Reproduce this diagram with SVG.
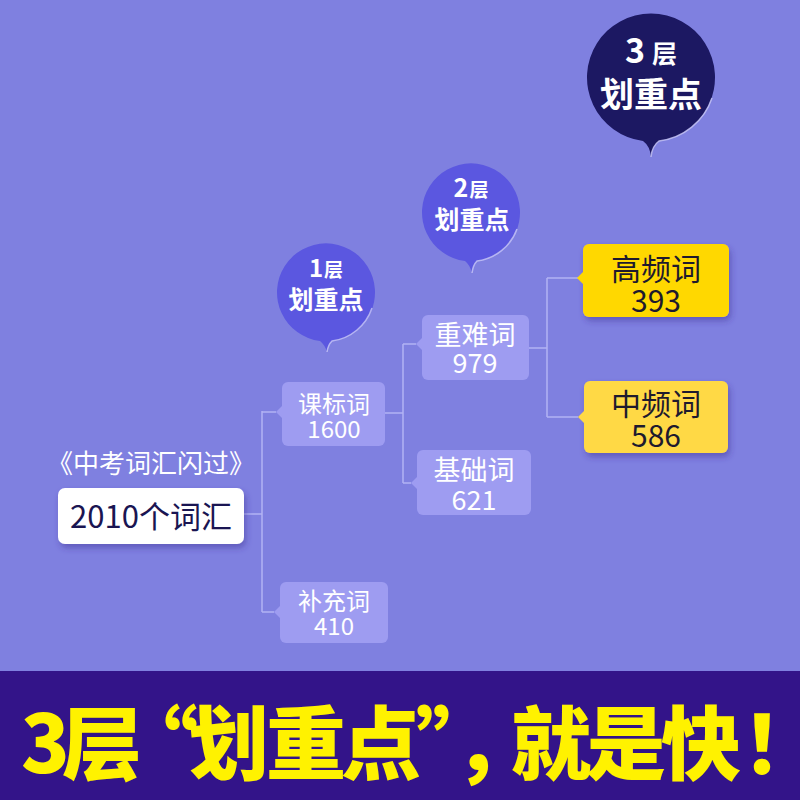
<svg xmlns="http://www.w3.org/2000/svg" width="800" height="800" viewBox="0 0 800 800">
<defs>
<style>
.t{font-family:"Noto Sans CJK SC","Noto Sans",sans-serif}
.w{fill:#ffffff}
.lv{fill:#9e9cf1}
.yl{fill:#ffd800}
.yl2{fill:#ffd944}
.ln{stroke:#b3b2f3;stroke-width:1.5;fill:none}
.hl{stroke:#c9c8f6;stroke-width:1.5;fill:none;opacity:0.8}
.nt{font-size:24px;fill:#ffffff;text-anchor:middle}
.mt{font-size:27px;fill:#ffffff;text-anchor:middle}
.yt{font-size:30px;fill:#1e1a2e;text-anchor:middle}
.bt{font-size:80px;font-weight:900;fill:#fff200}
</style>
<filter id="sh" x="-20%" y="-20%" width="140%" height="160%">
<feDropShadow dx="2" dy="4" stdDeviation="3" flood-color="#3a2f90" flood-opacity="0.45"/>
</filter>
</defs>
<rect x="0" y="0" width="800" height="800" fill="#7f80e0"/>

<g id="connectors">
<path class="ln" d="M244 514 H262 M262 411 V612 M262 412 H276 M262 612 H274"/>
<path class="ln" d="M385 413 H403 M403 344 V483 M403 344 H416 M403 483 H411"/>
<path class="ln" d="M529 348 H547 M547 278 V417 M547 278 H578 M547 417 H578"/>
</g>

<g id="bubble3">
<path d="M643 141 A64 64 0 1 1 659 141 Q652 146 651 157 Q650 146 643 141 Z" fill="#1c1862"/>
<path class="hl" d="M712 98 A64 64 0 0 1 659 141 Q652 146 651 157"/>
<text class="t" x="651" y="63" text-anchor="middle" font-weight="700" fill="#ffffff"><tspan font-size="34">3</tspan><tspan font-size="25" dx="7">层</tspan></text>
<text class="t" x="651" y="107" text-anchor="middle" font-weight="700" font-size="34" fill="#ffffff">划重点</text>
</g>

<g id="bubble2">
<path d="M465 261 A49 49 0 1 1 477 261 Q473 265 472 273 Q470 265 465 261 Z" fill="#5b57e0"/>
<path class="hl" d="M517 229 A49 49 0 0 1 477 261 Q473 265 472 273"/>
<text class="t" x="471" y="197" text-anchor="middle" font-weight="700" fill="#ffffff"><tspan font-size="25">2</tspan><tspan font-size="19" dx="1">层</tspan></text>
<text class="t" x="472" y="229" text-anchor="middle" font-weight="700" font-size="25" fill="#ffffff">划重点</text>
</g>

<g id="bubble1">
<path d="M320 341 A49 49 0 1 1 332 341 Q328 345 327 352 Q325 345 320 341 Z" fill="#5b57e0"/>
<path class="hl" d="M372 308 A49 49 0 0 1 332 341 Q328 345 327 352"/>
<text class="t" x="326" y="277" text-anchor="middle" font-weight="700" fill="#ffffff"><tspan font-size="24">1</tspan><tspan font-size="19" dx="1">层</tspan></text>
<text class="t" x="326" y="309" text-anchor="middle" font-weight="700" font-size="25" fill="#ffffff">划重点</text>
</g>

<g id="root">
<text class="t" x="151" y="473" text-anchor="middle" font-size="26" fill="#ffffff">《中考词汇闪过》</text>
<rect x="58" y="488" width="186" height="56" rx="7" fill="#ffffff" filter="url(#sh)"/>
<text class="t" x="151" y="528" text-anchor="middle" font-size="31" fill="#1a1552">2010个词汇</text>
</g>

<g id="kebiao">
<rect class="lv" x="282" y="382" width="103" height="64" rx="6"/>
<path class="lv" d="M276 412 L283 405 L283 419 Z"/>
<text class="t nt" x="334" y="413">课标词</text>
<text class="t nt" x="334" y="438">1600</text>
</g>

<g id="buchong">
<rect class="lv" x="280" y="582" width="108" height="61" rx="6"/>
<path class="lv" d="M274 612 L281 605 L281 619 Z"/>
<text class="t nt" x="334" y="610">补充词</text>
<text class="t nt" x="334" y="635">410</text>
</g>

<g id="zhongnan">
<rect class="lv" x="422" y="315" width="107" height="65" rx="6"/>
<path class="lv" d="M416 344 L423 337 L423 351 Z"/>
<text class="t mt" x="475" y="345">重难词</text>
<text class="t mt" x="475" y="373">979</text>
</g>

<g id="jichu">
<rect class="lv" x="417" y="450" width="114" height="65" rx="6"/>
<path class="lv" d="M411 483 L418 476 L418 490 Z"/>
<text class="t mt" x="474" y="480">基础词</text>
<text class="t mt" x="474" y="510">621</text>
</g>

<g id="gaopin">
<rect class="yl" x="583" y="244" width="146" height="73" rx="6" filter="url(#sh)"/>
<path class="yl" d="M577 278 L584 271 L584 285 Z"/>
<text class="t yt" x="656" y="280">高频词</text>
<text class="t yt" x="656" y="312">393</text>
</g>

<g id="zhongpin">
<rect class="yl2" x="584" y="381" width="144" height="72" rx="6" filter="url(#sh)"/>
<path class="yl2" d="M578 417 L585 410 L585 424 Z"/>
<text class="t yt" x="656" y="415">中频词</text>
<text class="t yt" x="656" y="447">586</text>
</g>

<g id="banner">
<rect x="0" y="671" width="800" height="129" fill="#331489"/>
<text class="t bt" x="21 62 118 189 266 341 416 454 511 586 661 742" y="773">3层“划重点”，就是快！</text>
</g>
</svg>
